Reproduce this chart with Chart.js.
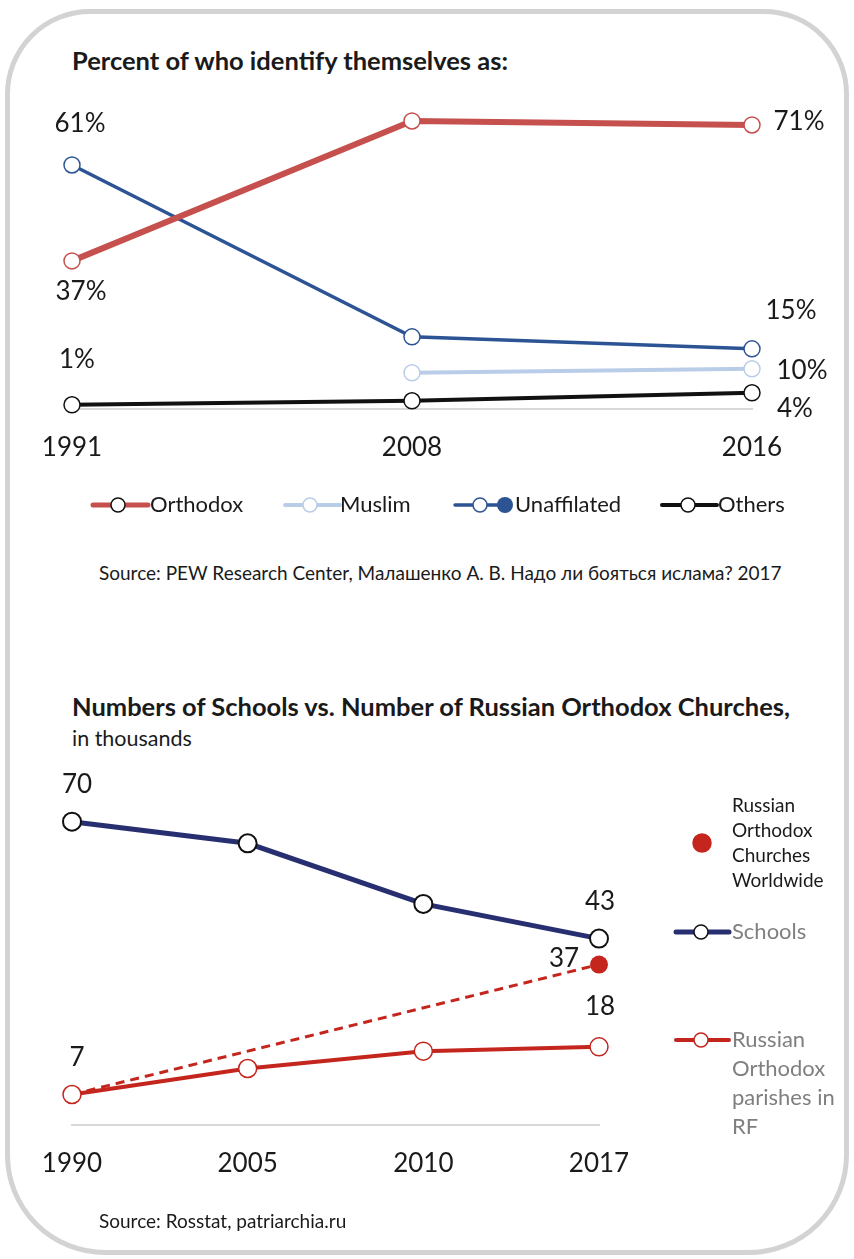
<!DOCTYPE html>
<html>
<head>
<meta charset="utf-8">
<script src="https://cdn.jsdelivr.net/npm/chart.js@4"></script>
<style>
  body { margin: 0; background: #fff; font-family: Lato, "Noto Sans", sans-serif; color: #1a1a1a; }
  #page { position: relative; width: 854px; height: 1259px; overflow: hidden; }
  #frame { position: absolute; left: 5px; top: 9px; width: 834px; height: 1236px; border: 5px solid #d3d3d3; border-radius: 85px 85px 100px 100px; }
  .title { position: absolute; left: 72px; font-weight: bold; font-size: 25.5px; line-height: 30px; white-space: nowrap; }
  .sub { position: absolute; left: 72px; font-size: 21.5px; line-height: 26px; }
  .source { position: absolute; font-size: 19px; line-height: 24px; white-space: nowrap; }
  canvas { position: absolute; left: 0; }
</style>
</head>
<body>
<div id="page">
  <div id="frame"></div>
  <div class="title" style="top:45px">Percent of who identify themselves as:</div>
  <canvas id="chart1" width="854" height="450" style="top:90px"></canvas>
  <div class="source" style="left:99px; top:561px">Source: PEW Research Center, Малашенко А. В. Надо ли бояться ислама? 2017</div>

  <div class="title" style="top:691px">Numbers of Schools vs. Number of Russian Orthodox Churches,</div>
  <div class="sub" style="top:725px">in thousands</div>
  <canvas id="chart2" width="854" height="450" style="top:760px"></canvas>
  <div class="source" style="left:99px; top:1209px">Source: Rosstat, patriarchia.ru</div>
</div>
<script>
// chart 1 data (percent)
const years1 = ["1991", "2008", "2016"];
const orthodox = [37, 72, 71];
const muslim = [null, 9, 10];
const unaffiliated = [61, 18, 15];
const others = [1, 2, 4];

// chart 2 data (thousands)
const years2 = ["1990", "2005", "2010", "2017"];
const schools = [70, 65, 51, 43];
const parishes = [7, 13, 17, 18];
const churches = [7, null, null, 37];

const FONT = "Lato, 'Noto Sans', sans-serif";

// value labels next to some points
function valueLabels(items, suffix) {
  return {
    id: "valueLabels",
    afterDatasetsDraw(chart) {
      const ctx = chart.ctx;
      ctx.save();
      ctx.font = "26px " + FONT;
      ctx.fillStyle = "#1a1a1a";
      ctx.textAlign = "center";
      ctx.textBaseline = "middle";
      items.forEach((it) => {
        const pt = chart.getDatasetMeta(it.ds).data[it.i];
        const v = chart.data.datasets[it.ds].data[it.i];
        ctx.fillText(v + (suffix || ""), pt.x + it.dx, pt.y + it.dy);
      });
      ctx.restore();
    },
  };
}

// legend with line + marker symbols
function lineLegend(items) {
  return {
    id: "lineLegend",
    afterDraw(chart) {
      const ctx = chart.ctx;
      ctx.save();
      items.forEach((it) => {
        const ds = chart.data.datasets[it.ds];
        const y = it.y;
        if (it.line !== false) {
          ctx.strokeStyle = ds.borderColor;
          ctx.lineWidth = it.lw || 4;
          ctx.lineCap = "round";
          ctx.beginPath();
          ctx.moveTo(it.x, y);
          ctx.lineTo(it.x + (it.len || 55), y);
          ctx.stroke();
        }
        ctx.beginPath();
        ctx.arc(it.cx, y, it.r || 7, 0, Math.PI * 2);
        ctx.fillStyle = it.fill || "#ffffff";
        ctx.fill();
        ctx.lineWidth = 1.5;
        ctx.strokeStyle = it.stroke || ds.pointBorderColor;
        ctx.stroke();
        if (it.dot) {
          ctx.beginPath();
          ctx.arc(it.dot, y, 8, 0, Math.PI * 2);
          ctx.fillStyle = ds.borderColor;
          ctx.fill();
        }
        ctx.font = it.font;
        ctx.fillStyle = it.color || "#1a1a1a";
        ctx.textAlign = "left";
        ctx.textBaseline = "middle";
        const lines = it.text || [ds.label];
        lines.forEach((t, k) => ctx.fillText(t, it.tx, (it.ty || y) + k * (it.lh || 0)));
      });
      ctx.restore();
    },
  };
}

function xAxis(labels) {
  return {
    type: "category",
    labels: labels,
    offset: false,
    grid: { display: true, drawOnChartArea: false, drawTicks: false },
    border: { display: true, color: "#d9d9d9", width: 2 },
    ticks: { font: { family: FONT, size: 26 }, color: "#1a1a1a", padding: 23, maxRotation: 0 },
  };
}

new Chart(document.getElementById("chart1"), {
  type: "line",
  data: {
    labels: years1,
    datasets: [
      { label: "Orthodox", data: orthodox, borderColor: "#c5504d", borderWidth: 6, pointBorderColor: "#c5504d" },
      { label: "Muslim", data: muslim, borderColor: "#b9cde8", borderWidth: 4, pointBorderColor: "#b9cde8" },
      { label: "Unaffilated", data: unaffiliated, borderColor: "#2c5393", borderWidth: 3.5, pointBorderColor: "#2c5393" },
      { label: "Others", data: others, borderColor: "#111111", borderWidth: 4, pointBorderColor: "#111111" },
    ].map((d) => Object.assign({ pointRadius: 8, pointBackgroundColor: "#fff", pointBorderWidth: 1.5, tension: 0, clip: false }, d)),
  },
  options: {
    responsive: false,
    animation: false,
    layout: { padding: { left: 72, right: 102, top: 19, bottom: 54 } },
    scales: {
      x: xAxis(years1),
      y: { display: false, min: 0, max: 75 },
    },
    plugins: { legend: { display: false }, tooltip: { enabled: false } },
  },
  plugins: [
    valueLabels([
      { ds: 2, i: 0, dx: 8, dy: -41 },
      { ds: 0, i: 0, dx: 9, dy: 31 },
      { ds: 3, i: 0, dx: 5, dy: -45 },
      { ds: 0, i: 2, dx: 47, dy: -3 },
      { ds: 2, i: 2, dx: 39, dy: -38 },
      { ds: 1, i: 2, dx: 50, dy: 2 },
      { ds: 3, i: 2, dx: 43, dy: 16 },
    ], "%"),
    lineLegend([
      { ds: 0, x: 93, cx: 118, y: 415, tx: 150, lw: 5, stroke: "#111", font: "22px " + FONT },
      { ds: 1, x: 285, cx: 310, y: 415, tx: 340, lw: 4, font: "22px " + FONT },
      { ds: 2, x: 455, cx: 480, y: 415, tx: 515, lw: 3.5, dot: 505, font: "22px " + FONT },
      { ds: 3, x: 662, cx: 688, y: 415, tx: 718, lw: 4, font: "22px " + FONT },
    ]),
  ],
});

new Chart(document.getElementById("chart2"), {
  type: "line",
  data: {
    labels: years2,
    datasets: [
      { label: "Schools", data: schools, borderColor: "#272f70", borderWidth: 5, pointRadius: 9, pointBorderColor: "#111", pointBorderWidth: 2, pointBackgroundColor: "#fff" },
      { label: "Russian Orthodox parishes in RF", data: parishes, borderColor: "#c4251d", borderWidth: 4, pointRadius: 9, pointBorderColor: "#c4251d", pointBorderWidth: 1.5, pointBackgroundColor: "#fff" },
      { label: "Russian Orthodox Churches Worldwide", data: churches, borderColor: "#c4251d", borderWidth: 3, borderDash: [9, 6], spanGaps: true, pointRadius: [0, 0, 0, 9], pointBorderWidth: 0, pointBackgroundColor: "#c4251d", pointBorderColor: "#c4251d" },
    ].map((d) => Object.assign({ tension: 0, clip: false }, d)),
  },
  options: {
    responsive: false,
    animation: false,
    layout: { padding: { left: 72, right: 255, top: 40, bottom: 8 } },
    scales: {
      x: xAxis(years2),
      y: { display: false, min: 0, max: 75 },
    },
    plugins: { legend: { display: false }, tooltip: { enabled: false } },
  },
  plugins: [
    valueLabels([
      { ds: 0, i: 0, dx: 5, dy: -37 },
      { ds: 0, i: 3, dx: 1, dy: -37 },
      { ds: 2, i: 3, dx: -35, dy: -6 },
      { ds: 1, i: 3, dx: 1, dy: -40 },
      { ds: 1, i: 0, dx: 5, dy: -37 },
    ]),
    lineLegend([
      { ds: 2, line: false, cx: 702, y: 83, r: 9, fill: "#c4251d", stroke: "#c4251d", tx: 732, ty: 46, lh: 25,
        text: ["Russian", "Orthodox", "Churches", "Worldwide"], font: "19px " + FONT, color: "#1a1a1a" },
      { ds: 0, x: 676, len: 53, cx: 701, y: 172, lw: 5, stroke: "#111", tx: 732, font: "22px " + FONT, color: "#7f7f7f" },
      { ds: 1, x: 676, len: 53, cx: 701, y: 280, lw: 4, tx: 732, lh: 29,
        text: ["Russian", "Orthodox", "parishes in", "RF"], font: "22px " + FONT, color: "#7f7f7f" },
    ]),
  ],
});
</script>
</body>
</html>
